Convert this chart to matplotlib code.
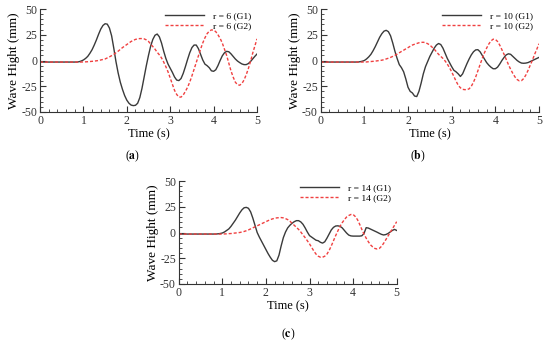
import numpy as np
import matplotlib
matplotlib.use("Agg")
import matplotlib.pyplot as plt
from matplotlib.ticker import MultipleLocator

plt.rcParams['font.family'] = ['Liberation Serif', 'DejaVu Serif']
plt.rcParams['mathtext.fontset'] = 'stix'
plt.rcParams['axes.unicode_minus'] = False

time = np.round(np.arange(0, 5.001, 0.05), 2)   # 101 samples
flat = [-1.5] * 18                               # t = 0.00 .. 0.85

# values from t = 0.90 to 5.00 every 0.05 s
a_g1 = flat + [-1.2, -0.5, 0.5, 2, 4, 7, 10.5, 15, 20, 25.5,
               30.5, 34, 35.7, 35.3, 31.5, 24, 12, -1, -12, -21,
               -28, -34, -38.5, -41.5, -43.3, -43.8, -43.5, -41.5, -36, -27,
               -16, -5, 5, 14, 20.5, 24.5, 25.7, 23, 17, 9,
               2, -3.5, -7.5, -11.5, -16, -19, -19.5, -17.5, -12.5, -6,
               1, 7.5, 12.5, 15, 15, 11.5, 6, 0.5, -3.5, -5,
               -7, -10, -10.5, -9, -5, 0, 4.5, 7.5, 8.9, 8.5,
               6.5, 4, 1.5, -0.5, -2, -3.3, -4, -4, -3, -1,
               1.5, 4, 6.3]
a_g2 = flat + [-1.5, -1.5, -1.4, -1.3, -1.2, -1.0, -0.8, -0.6, -0.3, 0,
               0.5, 1, 1.5, 2.5, 3.5, 4.7, 6, 7.5, 9, 10.8,
               12.5, 14, 15.5, 17, 18.5, 19.5, 20.5, 21, 21.3, 21.3,
               21, 20, 18.5, 16, 13.5, 11, 8, 5.5, 2.5, -1.5,
               -6, -11, -17, -23, -29, -33, -35.5, -35.5, -33.5, -30,
               -26, -21, -15, -8.5, -2, 4.5, 11, 17, 22, 26,
               28.5, 29.7, 29.5, 28, 25, 21.5, 17, 11, 5, -2.5,
               -10, -16, -21, -23.5, -24, -22.5, -19, -14, -8, -1,
               7, 14, 21]

b_g1 = flat + [-1.2, -0.7, 0, 1.5, 3.5, 6, 9.5, 13.5, 18, 22.5,
               26, 28.5, 29.3, 28, 24, 17, 9, 2, -4, -7,
               -11, -18, -26, -30, -31.5, -34.5, -35, -30, -22, -13,
               -6, -1, 4, 8, 12, 15, 16.5, 15.5, 12, 7,
               2, -2, -6, -9.5, -11, -13, -15.5, -13, -8, -3,
               1.5, 5.5, 8.5, 10.3, 10.5, 8.5, 5, 1.5, -2, -4.5,
               -6.5, -8, -8, -6.5, -3.5, 0, 3, 5.5, 6.5, 6,
               4, 2, 0, -1.5, -2.5, -2.7, -2.5, -2, -1, 0,
               1, 2, 3]
b_g2 = flat + [-1.5, -1.5, -1.5, -1.4, -1.2, -1.0, -0.8, -0.6, -0.3, 0,
               0.3, 0.8, 1.5, 2.2, 3, 4, 5, 6.2, 7.5, 8.8,
               10, 11.3, 12.5, 13.8, 15, 15.8, 16.5, 17.2, 17.6, 17.7,
               17.3, 16.3, 15, 13, 11, 8.5, 6, 4, 2, -0.5,
               -3.5, -7, -11, -15.5, -20, -24, -26.5, -28, -28.3, -28.3,
               -27.5, -25, -21, -16, -10, -4, 2, 7.5, 12, 16,
               19, 20.7, 20.5, 18.5, 15, 10.5, 6, 1, -4, -8.5,
               -12.5, -16, -18.5, -19.8, -19.5, -17.5, -14, -9.5, -4.5, 0.5,
               6, 11, 16.3]

c_g1 = flat + [-1.3, -1.0, -0.5, 0.5, 2, 3.5, 6, 9, 12, 15.5,
               19, 22, 24, 24.4, 23.5, 20, 14, 7, 0, -4.5,
               -8.5, -12.5, -16.5, -20.5, -24, -27, -28.3, -27.5, -22, -13,
               -5, 0.5, 4.5, 7, 9, 10.5, 11.5, 11.5, 10.3, 8,
               4.5, 0.5, -3, -4.5, -6, -7.5, -8, -9.5, -10.3, -9,
               -5.5, -1.5, 2.5, 5, 6.3, 6.5, 6, 4.5, 2, -0.5,
               -2.5, -3.3, -3.5, -3.5, -3.5, -3.5, -3.2, -1, 4.7, 4.3,
               3.3, 2.3, 1.3, 0.3, -0.8, -1.8, -2.4, -2, -1, 0.5,
               2, 3, 2]
c_g2 = flat + [-1.5, -1.5, -1.5, -1.4, -1.3, -1.1, -1.0, -0.7, -0.5, -0.2,
               0, 0.5, 1, 1.7, 2.5, 3.5, 4.5, 5.5, 6.5, 7.5,
               8.5, 9.5, 10.5, 11.5, 12.5, 13.2, 13.8, 14.2, 14.4, 14.5,
               14.2, 13.5, 12.5, 11, 9, 7, 5, 3, 0.5, -2.3,
               -5, -8, -11, -14.5, -18, -21, -23, -24, -24, -23,
               -21, -17.5, -13, -8, -3, 1.5, 6, 9.5, 12.5, 15,
               16.5, 17.5, 17.5, 15.5, 12.5, 8, 3, -1.5, -5.5, -9,
               -12, -14, -15.5, -16, -15.5, -13.5, -10.5, -7, -3.5, 0,
               3.5, 7, 10.5]

for s in (a_g1, a_g2, b_g1, b_g2, c_g1, c_g2):
    assert len(s) == len(time), len(s)

panels = [
    ("a", "6", a_g1, a_g2, [40, 9, 257, 112], (133, 156)),
    ("b", "10", b_g1, b_g2, [320.7, 9, 539, 112], (418, 156)),
    ("c", "14", c_g1, c_g2, [178.7, 181, 396.7, 284], (288, 334)),
]

W, H = 550, 343
fig = plt.figure(figsize=(5.5, 3.43), dpi=100)

for letter, r, g1, g2, box, lab in panels:
    x0, y0, x1, y1 = box
    ax = fig.add_axes([x0 / W, 1 - y1 / H, (x1 - x0) / W, (y1 - y0) / H])
    ax.plot(time, g1, color='#3a3a3a', lw=1.0, label=f"r = {r} (G1)")
    ax.plot(time, g2, color='#f04040', lw=1.0, ls=(0, (2.2, 1.4)),
            label=f"r = {r} (G2)")
    ax.set_xlim(0, 5)
    ax.set_ylim(-50, 50)
    ax.set_xticks([0, 1, 2, 3, 4, 5])
    ax.set_yticks([-50, -25, 0, 25, 50])
    ax.xaxis.set_minor_locator(MultipleLocator(0.2))
    ax.yaxis.set_minor_locator(MultipleLocator(5))
    ax.tick_params(which='both', direction='in', labelsize=8.5, colors='#333333',
                   pad=2)
    ax.tick_params(which='major', length=4, width=0.8)
    ax.tick_params(which='minor', length=2, width=0.6)
    for s in ('top', 'right'):
        ax.spines[s].set_visible(False)
    for s in ('left', 'bottom'):
        ax.spines[s].set_color('#333333')
        ax.spines[s].set_linewidth(0.8)
    ax.set_xlabel("Time (s)", fontsize=9, labelpad=1)
    ax.set_ylabel("Wave Hight (mm)", fontsize=9.5, labelpad=1)
    ax.legend(loc='upper right', bbox_to_anchor=(1.0, 1.03), frameon=False,
              fontsize=6.8, handlelength=4.1, handletextpad=1.0,
              labelspacing=0.15, borderaxespad=0.2)
    fig.text(lab[0] / W, 1 - lab[1] / H, r"($\mathbf{%s}$)" % letter,
             ha='center', va='center', fontsize=8.5)

fig.savefig("out.png", dpi=100)
